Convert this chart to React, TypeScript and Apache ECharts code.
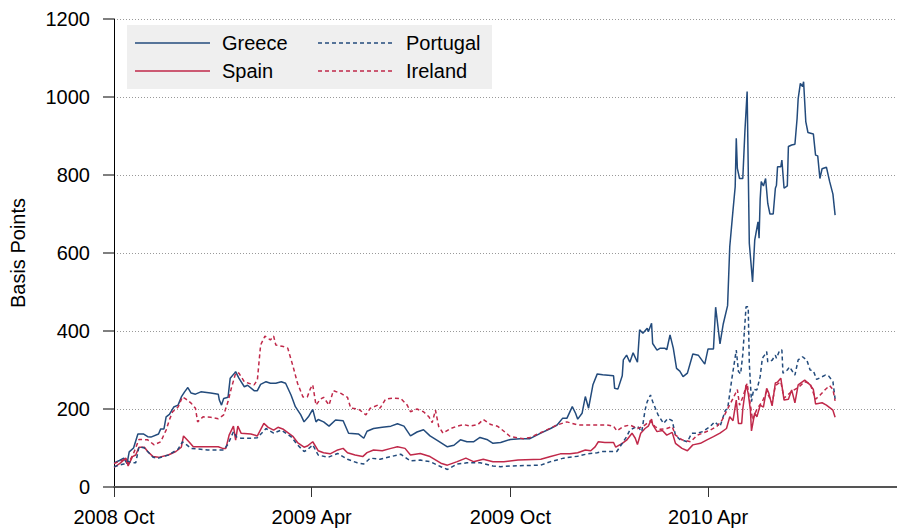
import React, { useEffect, useRef } from "react";
import * as echarts from "echarts";

type Pt = [string, number];

const greece: Pt[] = [
  ["2008-10-01",62],["2008-10-06",68],["2008-10-10",74],["2008-10-13",60],["2008-10-15",90],["2008-10-19",100],["2008-10-23",136],["2008-10-28",136],["2008-11-01",129],["2008-11-04",128],["2008-11-11",136],["2008-11-13",149],["2008-11-16",149],["2008-11-18",180],["2008-11-21",186],["2008-11-25",205],["2008-11-29",210],["2008-12-02",231],["2008-12-05",244],["2008-12-08",255],["2008-12-11",241],["2008-12-15",238],["2008-12-20",244],["2008-12-29",241],
  ["2009-01-05",238],["2009-01-06",223],["2009-01-08",210],["2009-01-10",227],["2009-01-14",230],["2009-01-16",279],["2009-01-20",292],["2009-01-21",296],["2009-01-24",279],["2009-01-29",257],["2009-02-01",261],["2009-02-07",247],["2009-02-10",247],["2009-02-13",263],["2009-02-18",270],["2009-02-22",266],["2009-02-27",266],["2009-03-04",270],["2009-03-08",266],["2009-03-13",236],["2009-03-17",206],["2009-03-22",185],["2009-03-25",167],["2009-03-29",180],["2009-04-02",199],["2009-04-05",167],["2009-04-07",173],["2009-04-12",167],["2009-04-17",156],["2009-04-23",172],["2009-04-30",170],["2009-05-05",138],["2009-05-14",136],["2009-05-19",125],["2009-05-22",143],["2009-05-28",150],["2009-06-05",153],["2009-06-13",156],["2009-06-19",162],["2009-06-25",156],["2009-07-01",131],["2009-07-07",141],["2009-07-13",147],["2009-07-19",131],["2009-07-26",119],["2009-08-04",103],["2009-08-10",107],["2009-08-16",121],["2009-08-22",116],["2009-08-28",116],["2009-09-03",127],["2009-09-10",121],["2009-09-15",112],["2009-09-22",114],["2009-10-01",122],["2009-10-10",124],["2009-10-19",124],["2009-10-29",138],["2009-11-07",150],["2009-11-13",159],["2009-11-18",176],["2009-11-22",176],["2009-11-27",206],["2009-11-30",189],["2009-12-02",174],["2009-12-06",189],["2009-12-09",232],["2009-12-12",202],["2009-12-16",262],["2009-12-20",290],["2009-12-25",288],
  ["2010-01-04",285],["2010-01-05",253],["2010-01-08",251],["2010-01-12",285],["2010-01-13",326],["2010-01-16",338],["2010-01-19",320],["2010-01-22",344],["2010-01-26",320],["2010-01-28",403],["2010-01-31",394],["2010-02-04",407],["2010-02-05",398],["2010-02-08",420],["2010-02-09",368],["2010-02-13",351],["2010-02-16",356],["2010-02-20",356],["2010-02-22",352],["2010-02-25",390],["2010-02-28",356],["2010-03-03",304],["2010-03-06",297],["2010-03-09",283],["2010-03-13",292],["2010-03-18",341],["2010-03-23",338],["2010-03-29",315],["2010-04-01",354],["2010-04-06",354],["2010-04-08",461],["2010-04-12",367],["2010-04-15",418],["2010-04-19",465],["2010-04-21",616],["2010-04-24",710],["2010-04-26",770],["2010-04-27",894],["2010-04-28",817],["2010-04-30",791],["2010-05-03",791],["2010-05-05",915],["2010-05-07",1014],["2010-05-09",625],["2010-05-12",526],["2010-05-14",633],["2010-05-17",680],["2010-05-18",638],["2010-05-19",738],["2010-05-20",783],["2010-05-22",772],["2010-05-24",791],["2010-05-26",727],["2010-05-28",700],["2010-05-31",700],["2010-06-02",766],["2010-06-03",774],["2010-06-04",821],["2010-06-07",821],["2010-06-08",838],["2010-06-10",766],["2010-06-13",772],["2010-06-14",873],["2010-06-17",877],["2010-06-20",879],["2010-06-22",945],["2010-06-23",996],["2010-06-25",1035],["2010-06-27",1027],["2010-06-28",1039],["2010-06-30",937],["2010-07-02",909],["2010-07-07",905],["2010-07-09",851],["2010-07-11",849],["2010-07-13",791],["2010-07-15",816],["2010-07-19",820],["2010-07-22",783],["2010-07-25",751],["2010-07-27",697],
];

const spain: Pt[] = [
  ["2008-10-01",50],["2008-10-07",62],["2008-10-12",74],["2008-10-14",54],["2008-10-18",78],["2008-10-21",82],["2008-10-24",102],["2008-10-29",102],["2008-11-01",91],["2008-11-06",78],["2008-11-11",76],["2008-11-20",82],["2008-11-27",91],["2008-12-02",102],["2008-12-04",131],["2008-12-09",116],["2008-12-13",103],["2008-12-23",103],
  ["2009-01-05",103],["2009-01-09",99],["2009-01-12",99],["2009-01-15",133],["2009-01-19",156],["2009-01-21",120],["2009-01-23",156],["2009-01-26",138],["2009-02-04",136],["2009-02-10",131],["2009-02-16",163],["2009-02-20",153],["2009-02-25",146],["2009-03-01",153],["2009-03-06",148],["2009-03-15",129],["2009-03-19",114],["2009-03-25",102],["2009-03-28",105],["2009-04-02",116],["2009-04-07",93],["2009-04-12",88],["2009-04-18",85],["2009-04-25",95],["2009-04-30",99],["2009-05-04",88],["2009-05-11",82],["2009-05-18",78],["2009-05-22",88],["2009-05-28",95],["2009-06-05",93],["2009-06-13",99],["2009-06-19",103],["2009-06-26",99],["2009-07-01",82],["2009-07-10",86],["2009-07-19",78],["2009-07-29",61],["2009-08-04",56],["2009-08-13",65],["2009-08-21",74],["2009-08-28",65],["2009-09-06",71],["2009-09-15",65],["2009-09-25",65],["2009-10-08",69],["2009-10-29",71],["2009-11-07",78],["2009-11-16",85],["2009-11-25",85],["2009-12-02",88],["2009-12-09",95],["2009-12-14",93],["2009-12-18",103],["2009-12-21",116],["2009-12-27",114],
  ["2010-01-04",114],["2010-01-06",102],["2010-01-12",112],["2010-01-16",120],["2010-01-21",138],["2010-01-24",125],["2010-01-26",109],["2010-01-29",138],["2010-02-02",150],["2010-02-05",156],["2010-02-08",174],["2010-02-09",160],["2010-02-13",142],["2010-02-18",145],["2010-02-22",133],["2010-02-27",140],["2010-03-02",112],["2010-03-08",99],["2010-03-13",93],["2010-03-18",108],["2010-03-25",112],["2010-03-31",121],["2010-04-06",129],["2010-04-12",138],["2010-04-18",150],["2010-04-21",180],["2010-04-24",170],["2010-04-27",223],["2010-04-29",163],["2010-05-02",163],["2010-05-03",200],["2010-05-06",262],["2010-05-08",240],["2010-05-10",197],["2010-05-11",144],["2010-05-14",190],["2010-05-16",180],["2010-05-19",210],["2010-05-22",205],["2010-05-25",253],["2010-05-27",240],["2010-05-30",208],["2010-06-02",267],["2010-06-04",269],["2010-06-07",279],["2010-06-10",223],["2010-06-14",225],["2010-06-17",249],["2010-06-20",216],["2010-06-23",262],["2010-06-29",274],["2010-07-04",262],["2010-07-07",250],["2010-07-09",213],["2010-07-15",216],["2010-07-19",210],["2010-07-25",197],["2010-07-27",179],
];

const portugal: Pt[] = [
  ["2008-10-01",52],["2008-10-06",56],["2008-10-10",59],["2008-10-14",66],["2008-10-17",62],["2008-10-21",62],["2008-10-24",103],["2008-10-29",100],["2008-11-01",91],["2008-11-06",76],["2008-11-11",74],["2008-11-20",82],["2008-11-29",97],["2008-12-03",116],["2008-12-07",108],["2008-12-11",99],["2008-12-26",95],
  ["2009-01-10",95],["2009-01-14",110],["2009-01-19",142],["2009-01-22",128],["2009-01-26",125],["2009-02-04",125],["2009-02-10",126],["2009-02-18",150],["2009-02-25",138],["2009-03-04",146],["2009-03-13",129],["2009-03-19",108],["2009-03-25",91],["2009-03-28",95],["2009-04-02",108],["2009-04-07",82],["2009-04-16",76],["2009-04-25",86],["2009-05-04",71],["2009-05-13",62],["2009-05-19",59],["2009-05-25",74],["2009-06-03",71],["2009-06-13",78],["2009-06-22",84],["2009-07-01",67],["2009-07-10",69],["2009-07-19",65],["2009-07-29",52],["2009-08-04",45],["2009-08-13",59],["2009-08-22",62],["2009-09-03",62],["2009-09-15",54],["2009-09-22",52],["2009-10-01",54],["2009-10-29",56],["2009-11-07",65],["2009-11-19",74],["2009-12-02",79],["2009-12-11",85],["2009-12-20",88],["2009-12-25",91],
  ["2010-01-07",91],["2010-01-12",112],["2010-01-16",129],["2010-01-19",146],["2010-01-26",156],["2010-01-30",142],["2010-02-02",197],["2010-02-04",219],["2010-02-07",236],["2010-02-09",219],["2010-02-14",185],["2010-02-19",163],["2010-02-23",176],["2010-02-27",170],["2010-03-02",133],["2010-03-06",122],["2010-03-13",116],["2010-03-17",138],["2010-03-22",138],["2010-03-27",142],["2010-04-03",155],["2010-04-07",167],["2010-04-12",155],["2010-04-17",197],["2010-04-19",200],["2010-04-23",279],["2010-04-27",351],["2010-04-29",296],["2010-05-01",290],["2010-05-03",340],["2010-05-06",462],["2010-05-08",462],["2010-05-09",317],["2010-05-11",219],["2010-05-13",250],["2010-05-16",249],["2010-05-19",283],["2010-05-21",330],["2010-05-23",338],["2010-05-25",347],["2010-05-26",321],["2010-05-30",325],["2010-06-02",338],["2010-06-03",330],["2010-06-06",351],["2010-06-08",351],["2010-06-09",292],["2010-06-13",300],["2010-06-15",308],["2010-06-20",287],["2010-06-23",326],["2010-06-27",334],["2010-07-01",325],["2010-07-04",300],["2010-07-07",298],["2010-07-10",276],["2010-07-13",280],["2010-07-18",287],["2010-07-21",285],["2010-07-25",270],["2010-07-27",226],
];

const ireland: Pt[] = [
  ["2008-10-01",60],["2008-10-06",66],["2008-10-10",70],["2008-10-14",60],["2008-10-19",86],["2008-10-24",122],["2008-11-01",121],["2008-11-07",108],["2008-11-13",116],["2008-11-18",146],["2008-11-21",172],["2008-11-24",193],["2008-11-29",205],["2008-12-03",231],["2008-12-06",226],["2008-12-11",215],["2008-12-15",202],["2008-12-17",167],["2008-12-22",180],["2008-12-29",179],
  ["2009-01-05",175],["2009-01-10",185],["2009-01-14",219],["2009-01-17",253],["2009-01-21",292],["2009-01-24",292],["2009-01-29",270],["2009-02-02",266],["2009-02-07",262],["2009-02-10",274],["2009-02-13",364],["2009-02-17",387],["2009-02-20",381],["2009-02-22",377],["2009-02-25",387],["2009-02-27",364],["2009-03-06",360],["2009-03-10",356],["2009-03-15",308],["2009-03-19",266],["2009-03-24",231],["2009-03-28",231],["2009-03-31",253],["2009-04-02",262],["2009-04-05",210],["2009-04-09",225],["2009-04-12",230],["2009-04-17",210],["2009-04-21",247],["2009-04-28",240],["2009-05-04",230],["2009-05-07",202],["2009-05-14",200],["2009-05-21",185],["2009-05-25",202],["2009-06-01",210],["2009-06-03",202],["2009-06-08",225],["2009-06-15",228],["2009-06-22",227],["2009-06-28",210],["2009-07-01",193],["2009-07-07",200],["2009-07-13",193],["2009-07-18",180],["2009-07-21",165],["2009-07-24",197],["2009-07-27",155],["2009-07-31",138],["2009-08-07",150],["2009-08-13",156],["2009-08-19",160],["2009-08-25",156],["2009-09-01",160],["2009-09-06",173],["2009-09-13",160],["2009-09-19",156],["2009-09-22",150],["2009-10-01",129],["2009-10-13",124],["2009-10-19",127],["2009-10-31",142],["2009-11-13",159],["2009-11-22",167],["2009-12-02",159],["2009-12-14",159],["2009-12-29",159],
  ["2010-01-04",156],["2010-01-07",144],["2010-01-13",155],["2010-01-19",159],["2010-01-26",150],["2010-01-31",155],["2010-02-07",170],["2010-02-11",155],["2010-02-16",148],["2010-02-22",150],["2010-02-27",155],["2010-03-02",133],["2010-03-08",121],["2010-03-16",116],["2010-03-22",133],["2010-03-27",138],["2010-04-03",146],["2010-04-09",155],["2010-04-14",172],["2010-04-19",200],["2010-04-24",227],["2010-04-28",250],["2010-04-30",210],["2010-05-03",230],["2010-05-07",266],["2010-05-10",210],["2010-05-12",172],["2010-05-16",200],["2010-05-21",219],["2010-05-25",245],["2010-05-30",215],["2010-06-02",260],["2010-06-07",270],["2010-06-10",228],["2010-06-17",245],["2010-06-23",255],["2010-06-29",270],["2010-07-04",265],["2010-07-09",225],["2010-07-13",235],["2010-07-18",250],["2010-07-22",260],["2010-07-25",250],["2010-07-27",221],
];

const tickDates = ["2008-10-01", "2009-04-01", "2009-10-01", "2010-04-01"];
const tickLabels = ["2008 Oct", "2009 Apr", "2009 Oct", "2010 Apr"];
const xMinDate = "2008-10-01";
const xMaxDate = "2010-09-22";

const BLUE = "#234b7c";
const RED = "#c0294a";
const FONT = "Liberation Sans, Arial, Helvetica, sans-serif";

const ts = (s: string) => Date.parse(s + "T00:00:00Z");
const toSeries = (d: Pt[]) => d.map(([s, v]) => [ts(s), v]);

export default function App() {
  const ref = useRef<HTMLDivElement>(null);
  useEffect(() => {
    if (!ref.current) return;
    const chart = echarts.init(ref.current, null, { renderer: "svg" });
    const tickVals = tickDates.map(ts);
    const labelFor = (v: number) => {
      const i = tickVals.indexOf(v);
      return i >= 0 ? tickLabels[i] : "";
    };
    const line = (name: string, data: Pt[], color: string, dashed: boolean) => ({
      name,
      type: "line",
      data: toSeries(data),
      showSymbol: false,
      symbol: "none",
      lineStyle: { color, width: 1.5, type: dashed ? [4, 3] : "solid" },
      itemStyle: { color },
      z: 3,
    });
    const legendX1 = 135, legendX2 = 318;
    chart.setOption({
      animation: false,
      textStyle: { fontFamily: FONT },
      grid: { left: 113, right: 0, top: 19, bottom: 41, containLabel: false },
      xAxis: {
        type: "value",
        min: ts(xMinDate),
        max: ts(xMaxDate),
        axisLine: { show: true, lineStyle: { color: "#555", width: 2 } },
        axisTick: { show: true, length: 10, lineStyle: { color: "#333" }, customValues: tickVals },
        axisLabel: {
          customValues: tickVals,
          formatter: (v: number) => labelFor(v),
          color: "#000",
          fontSize: 20,
          fontFamily: FONT,
          margin: 20,
        },
        splitLine: { show: false },
      },
      yAxis: {
        type: "value",
        min: 0,
        max: 1200,
        interval: 200,
        name: "Basis Points",
        nameLocation: "middle",
        nameGap: 86,
        nameTextStyle: { color: "#000", fontSize: 20, fontFamily: FONT },
        axisLine: { show: true, lineStyle: { color: "#000", width: 1 } },
        axisTick: { show: true, length: 11, lineStyle: { color: "#555", width: 1.5 } },
        axisLabel: { color: "#000", fontSize: 20, fontFamily: FONT, margin: 24, formatter: (v: number) => String(v) },
        splitLine: { show: true, lineStyle: { color: "#999", type: [1, 2], width: 1 } },
      },
      series: [
        line("Greece", greece, BLUE, false),
        line("Spain", spain, RED, false),
        line("Portugal", portugal, BLUE, true),
        line("Ireland", ireland, RED, true),
      ],
      graphic: [
        { type: "rect", shape: { x: 127, y: 25, width: 365, height: 64 }, style: { fill: "#efefef" }, z: 10 },
        { type: "line", shape: { x1: legendX1, y1: 43, x2: legendX1 + 75, y2: 43 }, style: { stroke: BLUE, lineWidth: 1.5 }, z: 11 },
        { type: "line", shape: { x1: legendX1, y1: 71, x2: legendX1 + 75, y2: 71 }, style: { stroke: RED, lineWidth: 1.5 }, z: 11 },
        { type: "line", shape: { x1: legendX2, y1: 43, x2: legendX2 + 75, y2: 43 }, style: { stroke: BLUE, lineWidth: 1.5, lineDash: [4, 3] }, z: 11 },
        { type: "line", shape: { x1: legendX2, y1: 71, x2: legendX2 + 75, y2: 71 }, style: { stroke: RED, lineWidth: 1.5, lineDash: [4, 3] }, z: 11 },
        { type: "text", x: 222, y: 43, style: { text: "Greece", fontSize: 20, fontFamily: FONT, fill: "#000", verticalAlign: "middle" }, z: 11 },
        { type: "text", x: 222, y: 71, style: { text: "Spain", fontSize: 20, fontFamily: FONT, fill: "#000", verticalAlign: "middle" }, z: 11 },
        { type: "text", x: 406, y: 43, style: { text: "Portugal", fontSize: 20, fontFamily: FONT, fill: "#000", verticalAlign: "middle" }, z: 11 },
        { type: "text", x: 406, y: 71, style: { text: "Ireland", fontSize: 20, fontFamily: FONT, fill: "#000", verticalAlign: "middle" }, z: 11 },
      ],
    });
    return () => chart.dispose();
  }, []);
  return <div ref={ref} style={{ position: "absolute", left: 0, top: 0, width: 897, height: 528 }} />;
}
